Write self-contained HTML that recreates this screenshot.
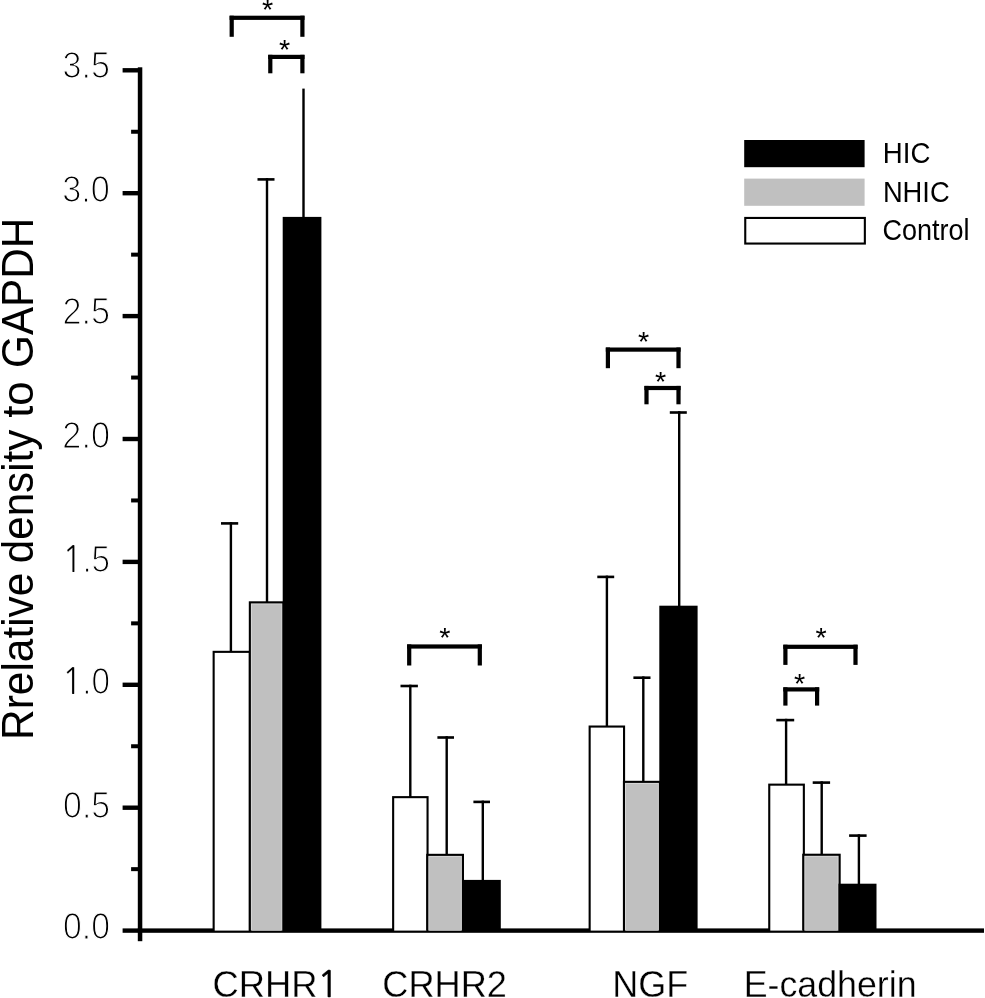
<!DOCTYPE html>
<html><head><meta charset="utf-8"><title>Relative density to GAPDH</title>
<style>
html,body{margin:0;padding:0;background:#fff;}
body{width:985px;height:998px;overflow:hidden;}
svg{display:block;}
text{font-family:"Liberation Sans",Arial,sans-serif;fill:#000;}
.yt{font-size:36px;stroke:#fff;stroke-width:1.2px;}
.xl{font-size:36px;stroke:#fff;stroke-width:0.3px;}
.lg{font-size:29px;}
.tt{font-size:42px;}
.st{font-size:27px;}
.one{font-family:NanumGothic,"Liberation Sans",sans-serif;}
.bold1{stroke:#000;stroke-width:0.6px;font-size:34.5px;}
.yt .one{stroke-width:0.2px;}
</style></head>
<body>
<svg width="985" height="998" viewBox="0 0 985 998">
<rect x="0" y="0" width="985" height="998" fill="#fff"/>
<rect x="137.8" y="67.3" width="4.5" height="873.9" fill="#000"/>
<rect x="137.8" y="928.4" width="846.2" height="4.4" fill="#000"/>
<rect x="122.6" y="928.4" width="17.4" height="4.4" fill="#000"/>
<rect x="122.6" y="805.5" width="17.4" height="4.4" fill="#000"/>
<rect x="122.6" y="682.6" width="17.4" height="4.4" fill="#000"/>
<rect x="122.6" y="559.7" width="17.4" height="4.4" fill="#000"/>
<rect x="122.6" y="436.8" width="17.4" height="4.4" fill="#000"/>
<rect x="122.6" y="313.9" width="17.4" height="4.4" fill="#000"/>
<rect x="122.6" y="191" width="17.4" height="4.4" fill="#000"/>
<rect x="122.6" y="68.1" width="17.4" height="4.4" fill="#000"/>
<rect x="131.1" y="867.15" width="8.9" height="4" fill="#000"/>
<rect x="131.1" y="744.25" width="8.9" height="4" fill="#000"/>
<rect x="131.1" y="621.35" width="8.9" height="4" fill="#000"/>
<rect x="131.1" y="498.45" width="8.9" height="4" fill="#000"/>
<rect x="131.1" y="375.55" width="8.9" height="4" fill="#000"/>
<rect x="131.1" y="252.65" width="8.9" height="4" fill="#000"/>
<rect x="131.1" y="129.75" width="8.9" height="4" fill="#000"/>
<rect x="212.6" y="650.8" width="38.3" height="279.8" fill="#000"/>
<rect x="214.7" y="652.9" width="34.1" height="277.7" fill="#fff"/>
<rect x="248.8" y="601.3" width="35.7" height="329.3" fill="#000"/>
<rect x="250.9" y="603.4" width="31.5" height="327.2" fill="#d6d6d6"/>
<rect x="251.9" y="604.4" width="29.5" height="326.2" fill="#c0c0c0"/>
<rect x="282.7" y="216.9" width="38.7" height="713.7" fill="#000"/>
<rect x="392.1" y="796.1" width="36.5" height="134.5" fill="#000"/>
<rect x="394.2" y="798.2" width="32.3" height="132.4" fill="#fff"/>
<rect x="426.2" y="853.8" width="37.8" height="76.8" fill="#000"/>
<rect x="428.3" y="855.9" width="33.6" height="74.7" fill="#d6d6d6"/>
<rect x="429.3" y="856.9" width="31.6" height="73.7" fill="#c0c0c0"/>
<rect x="462.5" y="879.9" width="38.3" height="50.7" fill="#000"/>
<rect x="588.6" y="725.5" width="36.5" height="205.1" fill="#000"/>
<rect x="590.7" y="727.6" width="32.3" height="203" fill="#fff"/>
<rect x="622.9" y="780.8" width="38.1" height="149.8" fill="#000"/>
<rect x="625" y="782.9" width="33.9" height="147.7" fill="#d6d6d6"/>
<rect x="626" y="783.9" width="31.9" height="146.7" fill="#c0c0c0"/>
<rect x="659.3" y="605.7" width="38.3" height="324.9" fill="#000"/>
<rect x="768.2" y="783.6" width="36.7" height="147" fill="#000"/>
<rect x="770.3" y="785.7" width="32.5" height="144.9" fill="#fff"/>
<rect x="802.2" y="853.7" width="38.5" height="76.9" fill="#000"/>
<rect x="804.3" y="855.8" width="34.3" height="74.8" fill="#d6d6d6"/>
<rect x="805.3" y="856.8" width="32.3" height="73.8" fill="#c0c0c0"/>
<rect x="838.5" y="883.7" width="38" height="46.9" fill="#000"/>
<rect x="229.7" y="522.1" width="2.4" height="129.7" fill="#000"/>
<rect x="221" y="522.1" width="17.2" height="2.6" fill="#000"/>
<rect x="265.8" y="178.1" width="2.4" height="424.2" fill="#000"/>
<rect x="257.5" y="178.1" width="17" height="2.6" fill="#000"/>
<rect x="302.3" y="88.6" width="2.4" height="129.3" fill="#000"/>
<rect x="409.1" y="684.7" width="2.4" height="112.4" fill="#000"/>
<rect x="400.5" y="684.7" width="17.4" height="2.6" fill="#000"/>
<rect x="445.5" y="736.2" width="2.4" height="118.6" fill="#000"/>
<rect x="437.4" y="736.2" width="16.6" height="2.6" fill="#000"/>
<rect x="481.6" y="800.6" width="2.4" height="80.3" fill="#000"/>
<rect x="473.4" y="800.6" width="16.6" height="2.6" fill="#000"/>
<rect x="605.7" y="575.6" width="2.4" height="150.9" fill="#000"/>
<rect x="597.3" y="575.6" width="16.9" height="2.6" fill="#000"/>
<rect x="642.1" y="676.4" width="2.4" height="105.4" fill="#000"/>
<rect x="633.4" y="676.4" width="17.1" height="2.6" fill="#000"/>
<rect x="678" y="411.2" width="2.4" height="195.5" fill="#000"/>
<rect x="669.8" y="411.2" width="17" height="2.6" fill="#000"/>
<rect x="784.9" y="718.8" width="2.4" height="65.8" fill="#000"/>
<rect x="776.3" y="718.8" width="17.9" height="2.6" fill="#000"/>
<rect x="820.5" y="781.3" width="2.4" height="73.4" fill="#000"/>
<rect x="812.7" y="781.3" width="17.4" height="2.6" fill="#000"/>
<rect x="857.7" y="834.3" width="2.4" height="50.4" fill="#000"/>
<rect x="849.1" y="834.3" width="17.5" height="2.6" fill="#000"/>
<rect x="229.6" y="15.7" width="74.9" height="4.2" fill="#000"/>
<rect x="229.6" y="15.7" width="4.2" height="21.1" fill="#000"/>
<rect x="300.3" y="15.7" width="4.2" height="21.1" fill="#000"/>
<rect x="268.2" y="54.8" width="36.3" height="4.2" fill="#000"/>
<rect x="268.2" y="54.8" width="4.2" height="18.5" fill="#000"/>
<rect x="300.3" y="54.8" width="4.2" height="18.5" fill="#000"/>
<rect x="407.1" y="644.4" width="74.8" height="4.2" fill="#000"/>
<rect x="407.1" y="644.4" width="4.2" height="21.1" fill="#000"/>
<rect x="477.7" y="644.4" width="4.2" height="21.1" fill="#000"/>
<rect x="605.8" y="347.5" width="74.8" height="4.2" fill="#000"/>
<rect x="605.8" y="347.5" width="4.2" height="20.7" fill="#000"/>
<rect x="676.4" y="347.5" width="4.2" height="20.7" fill="#000"/>
<rect x="644.4" y="385.9" width="36.2" height="4.2" fill="#000"/>
<rect x="644.4" y="385.9" width="4.2" height="18.4" fill="#000"/>
<rect x="676.4" y="385.9" width="4.2" height="18.4" fill="#000"/>
<rect x="783.3" y="644.7" width="74.3" height="4.2" fill="#000"/>
<rect x="783.3" y="644.7" width="4.2" height="20.2" fill="#000"/>
<rect x="853.4" y="644.7" width="4.2" height="20.2" fill="#000"/>
<rect x="783.3" y="687.3" width="35.9" height="4.2" fill="#000"/>
<rect x="783.3" y="687.3" width="4.2" height="18.3" fill="#000"/>
<rect x="815" y="687.3" width="4.2" height="18.3" fill="#000"/>
<rect x="744.2" y="140" width="120.4" height="27.2" fill="#000"/>
<rect x="744.2" y="178.6" width="120.4" height="27.2" fill="#c0c0c0"/>
<rect x="744.2" y="216.9" width="121.7" height="27.7" fill="#000"/>
<rect x="746.3" y="219" width="117.5" height="23.5" fill="#fff"/>
<text class="yt" transform="translate(62.468 78) scale(0.948 1.005)">3.5</text>
<text class="yt" transform="translate(62.251 201.9) scale(0.953 1.005)">3.0</text>
<text class="yt" transform="translate(62.526 324.1) scale(0.952 1.005)">2.5</text>
<text class="yt" transform="translate(62.358 448) scale(0.951 1.005)">2.0</text>
<text class="yt" transform="translate(62.204 571.9) scale(0.925 1.005)"><tspan class="one">1</tspan>.5</text>
<text class="yt" transform="translate(62.104 694) scale(0.923 1.005)"><tspan class="one">1</tspan>.0</text>
<text class="yt" transform="translate(63.122 817.8) scale(0.939 1.005)">0.5</text>
<text class="yt" transform="translate(63.013 939.4) scale(0.938 1.005)">0.0</text>
<text class="xl" transform="translate(212.612 997.1) scale(1.009 1.021)">CRHR<tspan class="one bold1">1</tspan></text>
<text class="xl" transform="translate(382.288 997.1) scale(1.005 1.021)">CRHR2</text>
<text class="xl" transform="translate(612.244 997.1) scale(1 1.021)">NGF</text>
<text class="xl" transform="translate(743.676 997.1) scale(0.993 1.021)">E-cadherin</text>
<text class="lg" transform="translate(882.821 163.2) scale(0.954 1.047)">HIC</text>
<text class="lg" transform="translate(882.879 202.1) scale(0.943 1.047)">NHIC</text>
<text class="lg" transform="translate(882.437 239.8) scale(0.932 1.047)">Control</text>
<text class="tt" transform="translate(33.2 739.95) rotate(-90) scale(1.01 1.045)">Rrelative</text>
<text class="tt" transform="translate(33.2 563.187) rotate(-90) scale(1.003 1.045)">density</text>
<text class="tt" transform="translate(33.2 417.78) rotate(-90) scale(1.041 1.045)">to</text>
<text class="tt" transform="translate(33.2 367.967) rotate(-90) scale(1.007 1.045)">GAPDH</text>
<text class="st" transform="translate(261.934 18.987) scale(1.066 0.992)">*</text>
<text class="st" transform="translate(279.059 59.232) scale(1.066 0.992)">*</text>
<text class="st" transform="translate(439.313 647.095) scale(1.066 0.992)">*</text>
<text class="st" transform="translate(637.934 351.005) scale(1.066 0.992)">*</text>
<text class="st" transform="translate(654.934 391.421) scale(1.066 0.992)">*</text>
<text class="st" transform="translate(815.474 646.986) scale(1.066 0.992)">*</text>
<text class="st" transform="translate(793.934 692.609) scale(1.066 0.992)">*</text>
</svg>
</body></html>
